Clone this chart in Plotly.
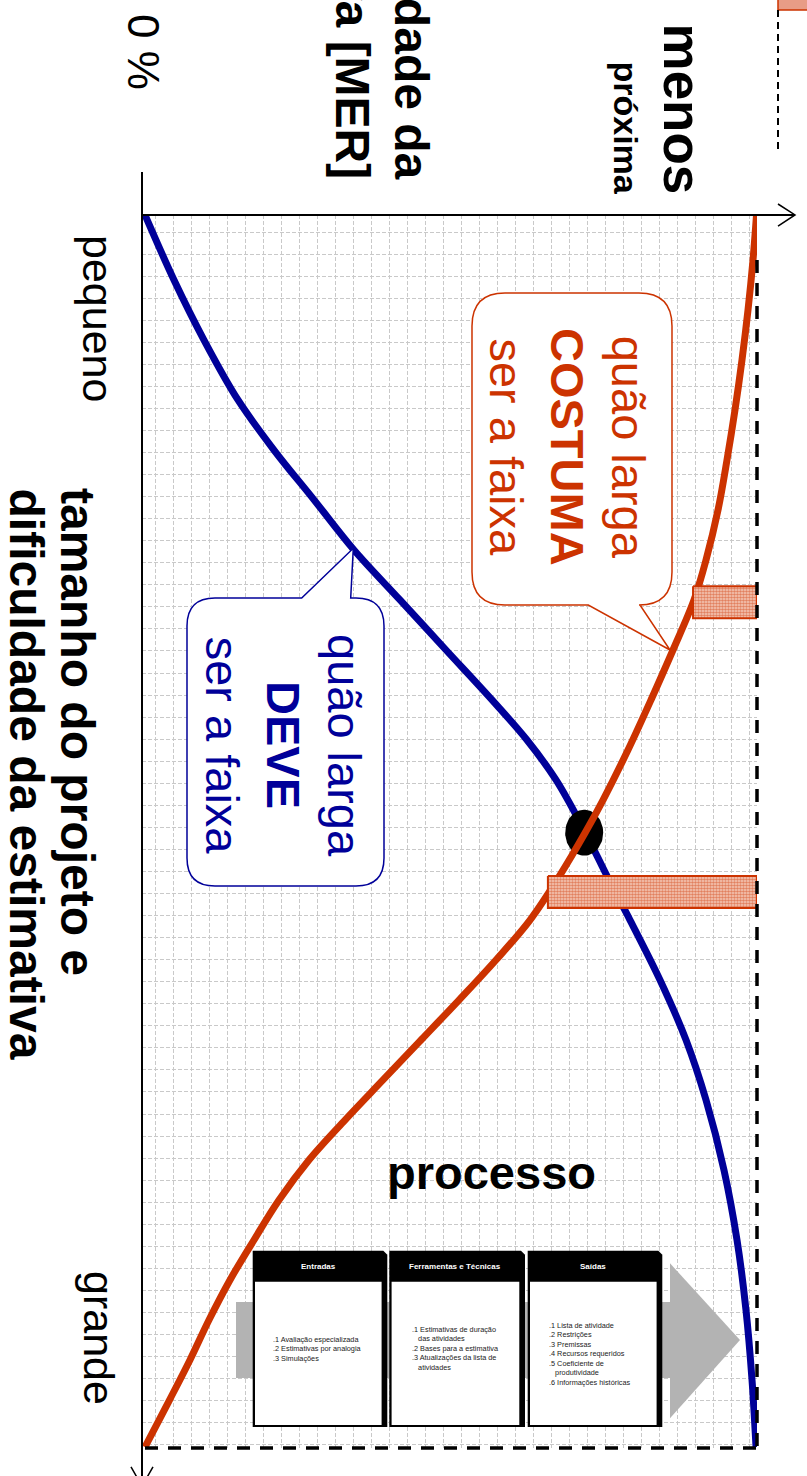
import numpy as np
import plotly.graph_objects as go

W, H = 807, 1476
AZUL = "#000099"
VERMELHO = "#cc3300"
CINZA = "#b3b3b3"
FONTE = "Liberation Sans, Arial, sans-serif"

# --- data (size/difficulty 0 = pequeno ... 100 = grande ; range width in %) ---
tamanho_deve = [0, 5.27, 10.14, 15.0, 19.06, 23.1, 27.17, 31.22, 35.28, 39.33, 42.58,
                45.82, 49.88, 53.93, 57.18, 62.04, 66.91, 71.78, 77.45, 83.13, 88.81,
                94.48, 99.92]
faixa_deve = [0.49, 5.2, 10.08, 15.61, 21.46, 27.97, 34.47, 41.95, 49.43, 56.91, 62.6,
              67.32, 71.87, 75.93, 79.35, 84.23, 88.46, 91.71, 94.63, 96.75, 98.21,
              99.19, 99.84]

tamanho_costuma = [0, 3.65, 7.7, 11.76, 15.82, 19.87, 23.93, 27.98, 31.22, 35.28, 39.33,
                   43.39, 47.45, 50.12, 53.53, 57.18, 60.42, 63.67, 66.91, 70.15, 73.4,
                   76.64, 79.89, 83.13, 86.37, 89.62, 92.86, 96.11, 99.92]
faixa_costuma = [99.92, 99.35, 98.54, 97.56, 96.42, 95.12, 93.66, 91.71, 89.76, 86.34,
                 82.76, 79.02, 74.96, 72.03, 67.97, 63.09, 57.56, 51.54, 45.37, 39.19,
                 33.01, 27.15, 22.28, 18.21, 14.31, 10.89, 7.8, 4.47, 0.49]

# crossing of the two curves
cruzamento_tamanho = 50.1
cruzamento_faixa = 71.9

# checkered range bars: from the "costuma" curve up to 100 %
barra_tamanho = [31.4, 54.9]
barra_inicio = [89.6, 66.0]
barra_fim = [100.0, 100.0]

# process box contents
cabecalhos = ["Entradas", "Ferramentas e Técnicas", "Saídas"]
entradas = [".1 Avaliação especializada", ".2 Estimativas por analogia", ".3 Simulações"]
ferramentas = [".1 Estimativas de duração", "\u00a0\u00a0\u00a0das atividades",
               ".2 Bases para a estimativa", ".3 Atualizações da lista de",
               "\u00a0\u00a0\u00a0atividades"]
saidas = [".1 Lista de atividade", ".2 Restrições", ".3 Premissas",
          ".4 Recursos requeridos", ".5 Coeficiente de", "\u00a0\u00a0\u00a0produtividade",
          ".6 Informações históricas"]

# --- plot frame in page pixels ---
PX_L, PX_R, PX_T, PX_B = 142, 757, 215, 1448


def X(px):
    return px / W


def Y(py):
    return 1 - py / H


fig = go.Figure()

# "deve" curve
fig.add_trace(go.Scatter(x=faixa_deve, y=tamanho_deve, mode="lines",
                         line=dict(color=AZUL, width=7, shape="spline", smoothing=1.0),
                         hoverinfo="skip", showlegend=False))

# crossing marker (ellipse around the crossing point)
sx = 100 / (PX_R - PX_L)
sy = 100 / (PX_B - PX_T)
t = np.linspace(0, 2 * np.pi, 80)
fig.add_trace(go.Scatter(x=cruzamento_faixa + 19 * sx * np.cos(t),
                         y=cruzamento_tamanho + 23 * sy * np.sin(t),
                         mode="lines", fill="toself", fillcolor="black",
                         line=dict(width=0, color="black"),
                         hoverinfo="skip", showlegend=False))

# "costuma" curve
fig.add_trace(go.Scatter(x=faixa_costuma, y=tamanho_costuma, mode="lines",
                         line=dict(color=VERMELHO, width=7, shape="spline", smoothing=1.0),
                         hoverinfo="skip", showlegend=False))

# checkered range bars
meia = 1.3
for tam, ini, fim in zip(barra_tamanho, barra_inicio, barra_fim):
    fig.add_trace(go.Scatter(x=[ini, fim, fim, ini, ini],
                             y=[tam - meia, tam - meia, tam + meia, tam + meia, tam - meia],
                             mode="lines", fill="toself",
                             fillpattern=dict(shape=".", fgcolor=VERMELHO, bgcolor="#f6cdbf",
                                              size=3, solidity=0.6),
                             line=dict(color=VERMELHO, width=2),
                             hoverinfo="skip", showlegend=False))

shapes = []


def linha(x0, y0, x1, y1, cor="black", w=2, dash=None, layer="above"):
    d = dict(type="line", xref="paper", yref="paper", x0=X(x0), y0=Y(y0), x1=X(x1), y1=Y(y1),
             line=dict(color=cor, width=w), layer=layer)
    if dash:
        d["line"]["dash"] = dash
    shapes.append(d)


def caminho(pts, fill, cor=None, w=0, layer="above", fecha=True):
    p = "M " + " L ".join(f"{X(a):.5f},{Y(b):.5f}" for a, b in pts)
    if fecha:
        p += " Z"
    shapes.append(dict(type="path", xref="paper", yref="paper", path=p,
                       fillcolor=fill, line=dict(color=cor or fill, width=w), layer=layer))


def retangulo(x0, y0, x1, y1, fill, cor=None, w=0, layer="above"):
    shapes.append(dict(type="rect", xref="paper", yref="paper", x0=X(x0), y0=Y(y0),
                       x1=X(x1), y1=Y(y1), fillcolor=fill,
                       line=dict(color=cor or fill, width=w), layer=layer))


# axes with arrows
linha(PX_L, 172, PX_L, H + 10)
linha(PX_L, PX_T, 795, PX_T)
caminho([(778, 204), (795, PX_T), (778, 226)], "rgba(0,0,0,0)", "black", 1.5, fecha=False)
caminho([(131, 1467), (PX_L, 1486), (153, 1467)], "rgba(0,0,0,0)", "black", 1.5, fecha=False)

# 100 % limits
linha(PX_R, 260, PX_R, PX_B, w=3.5, dash="13px,10px")
linha(145, PX_B, PX_R, PX_B, w=3.5, dash="13px,10px")

# legend fragment at the top right
retangulo(778, -5, 812, 10, "#e89c86", VERMELHO, 1.5)
linha(778, 10, 778, 153, w=2, dash="7px,5px")


def balao(x0, y0, x1, y1, r, base_a, base_b, ponta, lado, cor):
    def q(cx, cy, ex, ey):
        return f" Q {X(cx):.5f},{Y(cy):.5f} {X(ex):.5f},{Y(ey):.5f}"

    def l(a, b):
        return f" L {X(a):.5f},{Y(b):.5f}"

    p = f"M {X(x0 + r):.5f},{Y(y0):.5f}"
    if lado == "top":
        p += l(base_a, y0) + l(*ponta) + l(base_b, y0)
    p += l(x1 - r, y0) + q(x1, y0, x1, y0 + r)
    p += l(x1, y1 - r) + q(x1, y1, x1 - r, y1)
    if lado == "bottom":
        p += l(base_b, y1) + l(*ponta) + l(base_a, y1)
    p += l(x0 + r, y1) + q(x0, y1, x0, y1 - r)
    p += l(x0, y0 + r) + q(x0, y0, x0 + r, y0) + " Z"
    shapes.append(dict(type="path", xref="paper", yref="paper", path=p, fillcolor="white",
                       line=dict(color=cor, width=1.5), layer="above"))


balao(187, 598, 384, 886, 28, 301.7, 350.7, (353.3, 548.3), "top", AZUL)
balao(472, 293, 672, 605, 33, 588.3, 640, (670, 650), "bottom", VERMELHO)

# process diagram: grey flow arrow behind the three boxes
retangulo(236, 1302, 254, 1378, CINZA)
retangulo(381, 1302, 392, 1378, CINZA)
retangulo(518, 1302, 530, 1378, CINZA)
retangulo(655, 1302, 671, 1378, CINZA)
caminho([(670, 1263.3), (740, 1340), (670, 1418.3)], CINZA)

caixas = [(252.7, 387.3), (389.3, 525.0), (527.7, 662.3)]
TOPO, CAB, BASE = 1250.7, 1280.5, 1427.0
for x0, x1 in caixas:
    caminho([(x0, TOPO), (x1 - 4, TOPO), (x1, TOPO + 4), (x1, BASE), (x0, BASE)], "black")
    retangulo(x0 + 2.3, CAB + 1.2, x1 - 5.7, BASE - 2, "white")

annotations = []


def texto(t, x, y, size, cor="black", bold=False, angle=0, xa="center", ya="middle",
          align="center", fam=FONTE):
    annotations.append(dict(text=f"<b>{t}</b>" if bold else t, x=X(x), y=Y(y),
                            xref="paper", yref="paper", showarrow=False,
                            font=dict(size=size, color=cor, family=fam),
                            textangle=angle, xanchor=xa, yanchor=ya, align=align,
                            borderpad=0, borderwidth=0))


# rotated labels
texto("0 %", 143, 52, 44, angle=90)
texto("pequeno", 98, 318, 43, angle=90)
texto("grande", 99, 1338, 43, angle=90)
texto("tamanho do projeto e", 78, 488, 48, bold=True, angle=90, ya="top")
texto("dificuldade da estimativa", 26, 488, 48, bold=True, angle=90, ya="top")
texto("Probabilidade da", 411, 179, 48, bold=True, angle=90, ya="bottom")
texto("estimativa [MER]", 352, 179, 48, bold=True, angle=90, ya="bottom")
texto("menos", 682, 194, 53, bold=True, angle=90, ya="bottom")
texto("próxima", 626, 194, 34, bold=True, angle=90, ya="bottom")

# callout texts
texto("quão larga<br><b>DEVE</b><br>ser a faixa", 284, 745, 47, cor=AZUL, angle=90)
texto("quão larga<br><b>COSTUMA</b><br>ser a faixa", 568, 447, 47, cor=VERMELHO, angle=90)

# process title and boxes
texto("processo", 492, 1172, 47, bold=True)
for (x0, x1), cab in zip(caixas, cabecalhos):
    texto(cab, (x0 + x1) / 2 - 2, 1266, 8, cor="white", bold=True)
texto("<br>".join(entradas), 273, 1349, 7.3, cor="#222222", xa="left", align="left")
texto("<br>".join(ferramentas), 411.5, 1348.5, 7.3, cor="#222222", xa="left", align="left")
texto("<br>".join(saidas), 549, 1353.5, 7.3, cor="#222222", xa="left", align="left")

grade = dict(showgrid=True, gridcolor="#c9c9c9", gridwidth=1, griddash="4px,2px",
             showticklabels=False, ticks="", zeroline=False, showline=False,
             fixedrange=True)

fig.update_layout(
    width=W, height=H,
    margin=dict(l=0, r=0, t=0, b=0),
    paper_bgcolor="white", plot_bgcolor="rgba(0,0,0,0)",
    showlegend=False,
    xaxis=dict(domain=[X(PX_L), X(PX_R)], range=[0, 100],
               tick0=13 * sx, dtick=18.03 * sx, **grade),
    yaxis=dict(domain=[Y(PX_B), Y(PX_T)], range=[100, 0],
               tick0=17 * sy, dtick=22.05 * sy, **grade),
    shapes=shapes,
    annotations=annotations,
)

fig.write_html("out.html")
